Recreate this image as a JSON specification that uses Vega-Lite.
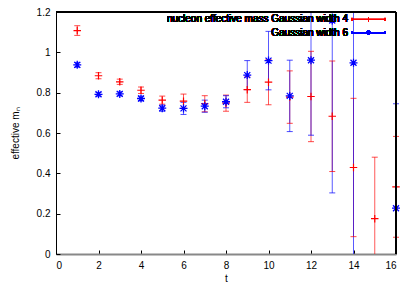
{
  "$schema": "https://vega.github.io/schema/vega-lite/v6.json",
  "width": 340,
  "height": 242,
  "autosize": "none",
  "padding": {"left": 56, "top": 12, "right": 15, "bottom": 34},
  "data": {"values": [
    {"s": "w4", "t": 1, "v": 1.108, "lo": 1.084, "hi": 1.132},
    {"s": "w4", "t": 2, "v": 0.884, "lo": 0.869, "hi": 0.899},
    {"s": "w4", "t": 3, "v": 0.854, "lo": 0.841, "hi": 0.867},
    {"s": "w4", "t": 4, "v": 0.812, "lo": 0.796, "hi": 0.828},
    {"s": "w4", "t": 5, "v": 0.763, "lo": 0.743, "hi": 0.783},
    {"s": "w4", "t": 6, "v": 0.758, "lo": 0.723, "hi": 0.793},
    {"s": "w4", "t": 7, "v": 0.745, "lo": 0.705, "hi": 0.785},
    {"s": "w4", "t": 8, "v": 0.748, "lo": 0.708, "hi": 0.788},
    {"s": "w4", "t": 9, "v": 0.815, "lo": 0.752, "hi": 0.878},
    {"s": "w4", "t": 10, "v": 0.852, "lo": 0.74, "hi": 0.964},
    {"s": "w4", "t": 11, "v": 0.778, "lo": 0.648, "hi": 0.908},
    {"s": "w4", "t": 12, "v": 0.781, "lo": 0.557, "hi": 1.005},
    {"s": "w4", "t": 13, "v": 0.683, "lo": 0.409, "hi": 0.957},
    {"s": "w4", "t": 14, "v": 0.429, "lo": 0.086, "hi": 0.772},
    {"s": "w4", "t": 15, "v": 0.175, "lo": -0.13, "hi": 0.48},
    {"s": "w4", "t": 16, "v": 0.333, "lo": 0.083, "hi": 0.583},
    {"s": "w6", "t": 1, "v": 0.938, "lo": 0.926, "hi": 0.95},
    {"s": "w6", "t": 2, "v": 0.792, "lo": 0.783, "hi": 0.801},
    {"s": "w6", "t": 3, "v": 0.794, "lo": 0.784, "hi": 0.804},
    {"s": "w6", "t": 4, "v": 0.771, "lo": 0.759, "hi": 0.783},
    {"s": "w6", "t": 5, "v": 0.723, "lo": 0.708, "hi": 0.738},
    {"s": "w6", "t": 6, "v": 0.722, "lo": 0.692, "hi": 0.752},
    {"s": "w6", "t": 7, "v": 0.733, "lo": 0.703, "hi": 0.763},
    {"s": "w6", "t": 8, "v": 0.755, "lo": 0.725, "hi": 0.785},
    {"s": "w6", "t": 9, "v": 0.887, "lo": 0.815, "hi": 0.959},
    {"s": "w6", "t": 10, "v": 0.959, "lo": 0.814, "hi": 1.104},
    {"s": "w6", "t": 11, "v": 0.784, "lo": 0.607, "hi": 0.961},
    {"s": "w6", "t": 12, "v": 0.961, "lo": 0.589, "hi": 1.333},
    {"s": "w6", "t": 13, "v": 1.158, "lo": 0.303, "hi": 2.013},
    {"s": "w6", "t": 14, "v": 0.948, "lo": -0.052, "hi": 1.948},
    {"s": "w6", "t": 16, "v": 0.227, "lo": -0.291, "hi": 0.745}
  ]},
  "layer": [
    {
      "mark": {"type": "rule", "clip": true, "strokeWidth": 1, "opacity": 0.65},
      "encoding": {
        "x": {"field": "t", "type": "quantitative", "scale": {"domain": [0, 16], "nice": false},
              "axis": {"orient": "bottom", "values": [0, 2, 4, 6, 8, 10, 12, 14, 16], "title": "t", "domainColor": "#888888", "domainWidth": 2}},
        "y": {"field": "lo", "type": "quantitative", "scale": {"domain": [0, 1.2], "nice": false, "zero": false},
              "axis": {"orient": "left", "values": [0, 0.2, 0.4, 0.6, 0.8, 1, 1.2], "format": "~g", "title": "effective mₙ", "titlePadding": 16}},
        "y2": {"field": "hi"},
        "color": {"field": "s", "type": "nominal", "scale": {"domain": ["w4", "w6"], "range": ["#ff0000", "#0000ff"]}, "legend": null}
      }
    },
    {
      "transform": [{"filter": "datum.lo >= 0 && datum.lo <= 1.2"}],
      "mark": {"type": "point", "shape": "M-1,0L1,0", "size": 36, "strokeWidth": 1, "opacity": 0.7},
      "encoding": {
        "x": {"field": "t", "type": "quantitative"},
        "y": {"field": "lo", "type": "quantitative"},
        "color": {"field": "s", "type": "nominal", "legend": null}
      }
    },
    {
      "transform": [{"filter": "datum.hi >= 0 && datum.hi <= 1.2"}],
      "mark": {"type": "point", "shape": "M-1,0L1,0", "size": 36, "strokeWidth": 1, "opacity": 0.7},
      "encoding": {
        "x": {"field": "t", "type": "quantitative"},
        "y": {"field": "hi", "type": "quantitative"},
        "color": {"field": "s", "type": "nominal", "legend": null}
      }
    },
    {
      "transform": [{"filter": "datum.s == 'w4'"}],
      "mark": {"type": "point", "shape": "M-1,0L1,0M0,-1L0,1", "size": 56, "strokeWidth": 1.2, "color": "#ff0000", "opacity": 1},
      "encoding": {
        "x": {"field": "t", "type": "quantitative"},
        "y": {"field": "v", "type": "quantitative"}
      }
    },
    {
      "transform": [{"filter": "datum.s == 'w6'"}],
      "mark": {"type": "point", "shape": "M-1,0L1,0M0,-1L0,1M-0.75,-0.75L0.75,0.75M-0.75,0.75L0.75,-0.75", "size": 64, "strokeWidth": 1.3, "color": "#0000ff", "opacity": 1},
      "encoding": {
        "x": {"field": "t", "type": "quantitative"},
        "y": {"field": "v", "type": "quantitative"}
      }
    },
    {
      "mark": {"type": "rule", "color": "#000000", "strokeWidth": 1.5},
      "encoding": {"y": {"datum": 1.2, "type": "quantitative"}}
    },
    {
      "mark": {"type": "rule", "color": "#000000", "strokeWidth": 1.5},
      "encoding": {"x": {"datum": 16, "type": "quantitative"}}
    },
    {
      "mark": {"type": "text", "text": "nucleon effective mass Gaussian width 4", "align": "right", "baseline": "middle", "font": "Liberation Sans", "fontSize": 10, "fontWeight": "normal", "fill": "#000000", "stroke": null, "opacity": 1},
      "encoding": {"x": {"datum": 13.74, "type": "quantitative"}, "y": {"datum": 1.163, "type": "quantitative"}}
    },
    {
      "mark": {"type": "text", "text": "Gaussian width 6", "align": "right", "baseline": "middle", "font": "Liberation Sans", "fontSize": 10, "fontWeight": "normal", "fill": "#000000", "stroke": null, "opacity": 1},
      "encoding": {"x": {"datum": 13.74, "type": "quantitative"}, "y": {"datum": 1.098, "type": "quantitative"}}
    },
    {
      "mark": {"type": "point", "shape": "M-3,0L3,0M-3,-0.27L-3,0.27M3,-0.27L3,0.27M0,-0.32L0,0.32", "size": 121, "strokeWidth": 1, "color": "#ff0000", "opacity": 0.75},
      "encoding": {"x": {"datum": 14.706, "type": "quantitative"}, "y": {"datum": 1.163, "type": "quantitative"}}
    },
    {
      "mark": {"type": "point", "shape": "M-3,0L3,0M-3,-0.27L-3,0.27M3,-0.27L3,0.27M0,-0.36L0,0.36M-0.27,-0.27L0.27,0.27M-0.27,0.27L0.27,-0.27", "size": 121, "strokeWidth": 1.2, "color": "#0000ff", "opacity": 0.85},
      "encoding": {"x": {"datum": 14.706, "type": "quantitative"}, "y": {"datum": 1.098, "type": "quantitative"}}
    }
  ],
  "config": {
    "font": "Liberation Sans",
    "view": {"stroke": null},
    "axis": {
      "grid": false,
      "labelFont": "Liberation Sans", "labelFontSize": 10, "labelColor": "#000000",
      "titleFont": "Liberation Sans", "titleFontSize": 10, "titleFontWeight": "normal", "titleColor": "#000000",
      "tickColor": "#000000", "domainColor": "#000000", "tickSize": -4, "labelPadding": 10, "titlePadding": 3
    }
  }
}
